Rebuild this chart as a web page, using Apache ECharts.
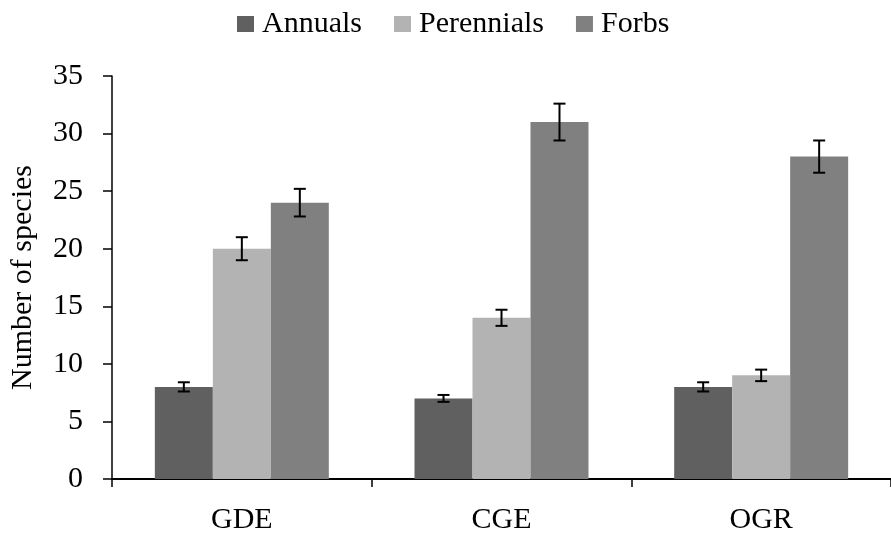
<!DOCTYPE html>
<html>
<head>
<meta charset="utf-8">
<script src="https://cdn.jsdelivr.net/npm/echarts@6/dist/echarts.min.js"></script>
<style>html,body{margin:0;padding:0;background:#fff}#c{width:891px;height:535px}</style>
</head>
<body>
<div id="c"></div>
<script>
var categories = ['GDE', 'CGE', 'OGR'];
var seriesNames = ['Annuals', 'Perennials', 'Forbs'];
var annuals = [8, 7, 8];
var perennials = [20, 14, 9];
var forbs = [24, 31, 28];
var annualsErr = [0.4, 0.3, 0.4];
var perennialsErr = [1.0, 0.7, 0.5];
var forbsErr = [1.2, 1.6, 1.4];
var colors = ['#606060', '#b3b3b3', '#808080'];

var FONT = '"Liberation Serif", "Times New Roman", serif';
var values = [annuals, perennials, forbs];
var errs = [annualsErr, perennialsErr, forbsErr];
var GAP = 0.33;

function errSeries(idx) {
  var data = categories.map(function (c, i) {
    return [i, values[idx][i], errs[idx][i]];
  });
  return {
    type: 'custom',
    name: seriesNames[idx] + ' error',
    data: data,
    z: 10,
    silent: true,
    encode: { x: 0, y: 1 },
    renderItem: function (params, api) {
      var xi = api.value(0), v = api.value(1), e = api.value(2);
      var band = api.size([1, 0])[0];
      var bw = band * (1 - GAP) / 3;
      var cx = api.coord([xi, v])[0] + (idx - 1) * bw;
      var yTop = api.coord([xi, v + e])[1];
      var yBot = api.coord([xi, v - e])[1];
      var cap = 6;
      var style = { stroke: '#000', lineWidth: 2 };
      return {
        type: 'group',
        children: [
          { type: 'line', shape: { x1: cx, y1: yTop, x2: cx, y2: yBot }, style: style },
          { type: 'line', shape: { x1: cx - cap, y1: yTop, x2: cx + cap, y2: yTop }, style: style },
          { type: 'line', shape: { x1: cx - cap, y1: yBot, x2: cx + cap, y2: yBot }, style: style }
        ]
      };
    }
  };
}

var series = seriesNames.map(function (n, idx) {
  return {
    type: 'bar',
    name: n,
    data: values[idx],
    barGap: '0%',
    barCategoryGap: (GAP * 100) + '%',
    itemStyle: { color: colors[idx] },
    emphasis: { disabled: true }
  };
});
series = series.concat([errSeries(0), errSeries(1), errSeries(2)]);

var chart = echarts.init(document.getElementById('c'), null, { renderer: 'canvas' });
chart.setOption({
  animation: false,
  backgroundColor: '#fff',
  textStyle: { fontFamily: FONT },
  legend: {
    data: seriesNames,
    top: 4,
    left: 232,
    icon: 'rect',
    itemWidth: 17,
    itemHeight: 16,
    itemGap: 32,
    textStyle: { fontFamily: FONT, fontSize: 30, color: '#000', padding: [0, 0, 0, 3] }
  },
  grid: { left: 107, top: 76, width: 792, height: 403, containLabel: false },
  xAxis: {
    type: 'category',
    data: categories,
    axisLine: { lineStyle: { color: '#000', width: 2 } },
    axisTick: { show: true, length: 8, lineStyle: { color: '#000', width: 1.5 } },
    axisLabel: { fontFamily: FONT, fontSize: 30, color: '#000', margin: 26 }
  },
  yAxis: {
    type: 'value',
    min: 0,
    max: 35,
    interval: 5,
    name: 'Number of species',
    nameLocation: 'middle',
    nameGap: 74,
    nameTextStyle: { fontFamily: FONT, fontSize: 30, color: '#000' },
    splitLine: { show: false },
    axisLine: { show: true, lineStyle: { color: '#000', width: 1.5 } },
    axisTick: { show: true, length: 9, lineStyle: { color: '#000', width: 1.5 } },
    axisLabel: { fontFamily: FONT, fontSize: 30, color: '#000', margin: 29 }
  },
  series: series
});
</script>
</body>
</html>
